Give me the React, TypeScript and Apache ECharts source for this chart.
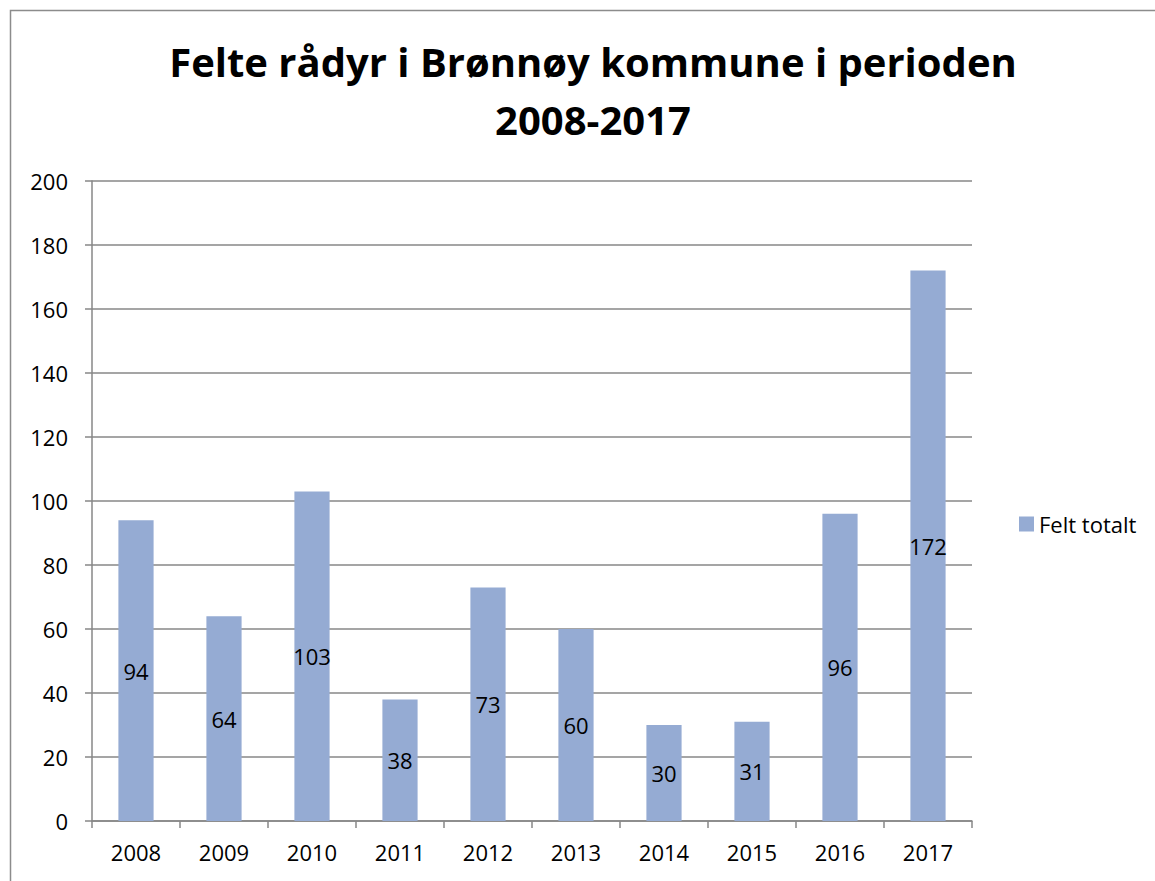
import React, { useEffect, useRef } from "react";
import * as echarts from "echarts";

const years = ["2008", "2009", "2010", "2011", "2012", "2013", "2014", "2015", "2016", "2017"];
const feltTotalt = [94, 64, 103, 38, 73, 60, 30, 31, 96, 172];
const seriesName = "Felt totalt";
const titleText = "Felte rådyr i Brønnøy kommune i perioden\n2008-2017";

export default function App() {
  const ref = useRef<HTMLDivElement>(null);
  useEffect(() => {
    if (!ref.current) return;
    const chart = echarts.init(ref.current, null, { renderer: "svg" });
    const font = "'Open Sans', sans-serif";
    const fs = 22;
    chart.setOption({
      animation: false,
      backgroundColor: "#ffffff",
      textStyle: { fontFamily: font },
      graphic: [
        {
          type: "rect",
          shape: { x: 10.5, y: 10.5, width: 1300, height: 1000 },
          style: { fill: "none", stroke: "#8c8c8c", lineWidth: 1.5 },
          silent: true,
        },
      ],
      title: {
        text: titleText,
        left: 588,
        top: 27,
        textAlign: "center",
        textStyle: {
          fontFamily: font,
          fontWeight: "bold",
          fontSize: 40,
          lineHeight: 58,
          color: "#000",
        },
      },
      legend: {
        data: [seriesName],
        left: 1014,
        top: 508,
        itemWidth: 15,
        itemHeight: 15,
        itemGap: 8,
        icon: "rect",
        textStyle: { fontFamily: font, fontSize: fs, color: "#000" },
      },
      grid: { left: 92, right: 183, top: 181, bottom: 60, containLabel: false },
      xAxis: {
        type: "category",
        data: years,
        boundaryGap: true,
        axisLine: { show: true, lineStyle: { color: "#878787", width: 1.5 } },
        axisTick: { show: true, length: 7, lineStyle: { color: "#878787", width: 1.5 } },
        axisLabel: { color: "#000", fontSize: fs, fontFamily: font, margin: 20 },
      },
      yAxis: {
        type: "value",
        min: 0,
        max: 200,
        interval: 20,
        axisLine: { show: true, lineStyle: { color: "#878787", width: 1.5 } },
        axisTick: { show: true, length: 7, lineStyle: { color: "#878787", width: 1.5 } },
        axisLabel: { color: "#000", fontSize: fs, fontFamily: font, margin: 24 },
        splitLine: { show: true, lineStyle: { color: "#878787", width: 1.5 } },
      },
      series: [
        {
          name: seriesName,
          type: "bar",
          data: feltTotalt,
          barWidth: "40%",
          itemStyle: { color: "#95abd3" },
          label: {
            show: true,
            position: "inside",
            color: "#000",
            fontSize: fs,
            fontFamily: font,
          },
        },
      ],
    });
    return () => chart.dispose();
  }, []);
  return (
    <div
      ref={ref}
      style={{ position: "fixed", left: 0, top: 0, width: 1155, height: 881 }}
    />
  );
}
